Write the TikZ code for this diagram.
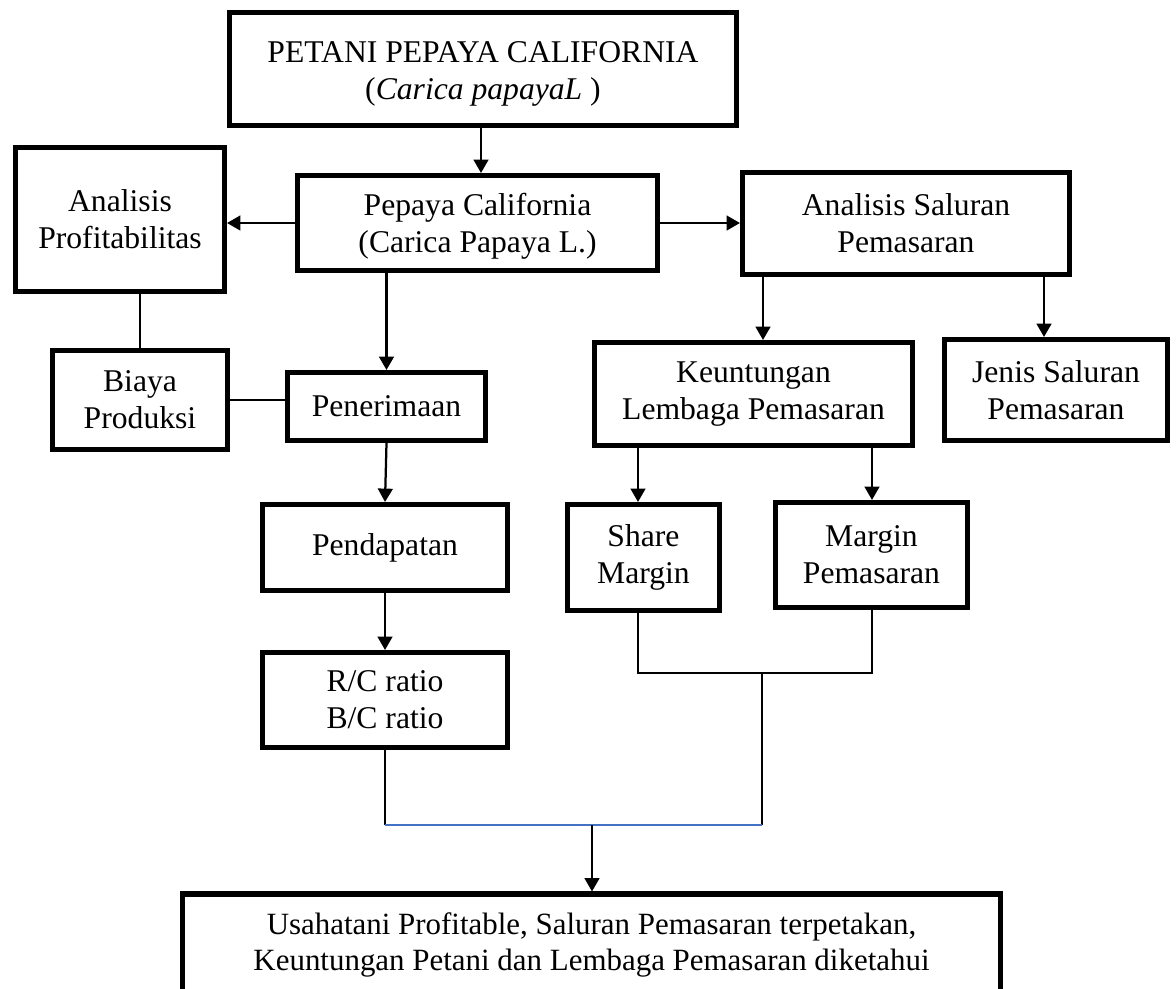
\documentclass[tikz,border=0pt]{standalone}
\usepackage{fontspec}
\setmainfont{Liberation Serif}
\usetikzlibrary{arrows.meta}
\definecolor{lineblue}{RGB}{68,114,196}
\tikzset{
  box/.style={draw, line width=3.6pt, align=center, inner sep=0pt,
    font=\fontsize{22.5}{26.5}\selectfont},
  arr/.style={line width=1.6pt, -{Triangle[width=10.5pt,length=9.5pt]}},
  conn/.style={line width=1.1pt},
}
\begin{document}
\begin{tikzpicture}[x=0.025cm,y=-0.025cm]
\clip (0,0) rectangle (1176,988);
\fill[white] (0,0) rectangle (1176,988);

\node[box, minimum width=12.675cm, minimum height=2.825cm] (top) at (483,69)
  {\rule{0pt}{22pt}PETANI PEPAYA CALIFORNIA\\(\textit{Carica papayaL} )};
\node[box, minimum width=5.225cm, minimum height=3.6cm] (anprof) at (120,219.5)
  {Analisis\\Profitabilitas};
\node[box, minimum width=9.0cm, minimum height=2.375cm] (pepaya) at (477.5,223)
  {\rule{0pt}{21pt}Pepaya California\\(Carica Papaya L.)};
\node[box, minimum width=8.175cm, minimum height=2.55cm] (saluran) at (906,223.5)
  {Analisis Saluran\\Pemasaran};
\node[box, minimum width=4.375cm, minimum height=2.475cm] (biaya) at (140,400)
  {Biaya\\Produksi};
\node[box, minimum width=4.95cm, minimum height=1.7cm] (penerimaan) at (386.5,406.5)
  {Penerimaan};
\node[box, minimum width=7.95cm, minimum height=2.575cm] (keunt) at (753.5,394)
  {Keuntungan\\Lembaga Pemasaran};
\node[box, minimum width=5.575cm, minimum height=2.525cm] (jenis) at (1056,390)
  {Jenis Saluran\\Pemasaran};
\node[box, minimum width=6.125cm, minimum height=2.15cm] (pendapatan) at (385,547.5)
  {Pendapatan};
\node[box, minimum width=3.8cm, minimum height=2.65cm] (share) at (643.5,557.5)
  {Share\\Margin};
\node[box, minimum width=4.8cm, minimum height=2.625cm] (margin) at (871.5,555)
  {Margin\\Pemasaran};
\node[box, minimum width=6.125cm, minimum height=2.375cm] (rc) at (385,700)
  {R/C ratio\\B/C ratio};
\node[box, minimum width=20.45cm, minimum height=2.55cm,
  font=\fontsize{22}{25}\selectfont] (bottom) at (591.5,945)
  {Usahatani Profitable, Saluran Pemasaran terpetakan,\\Keuntungan Petani dan Lembaga Pemasaran diketahui};

% helper coordinates
\coordinate (xt) at (481,0);
\coordinate (xk) at (763,0);
\coordinate (xj) at (1044,0);
\coordinate (xs) at (638,0);
\coordinate (xm) at (872,0);
\coordinate (xc) at (762,0);
\coordinate (xb) at (592,0);
\coordinate (yj) at (0,673);
\coordinate (yb) at (0,825);

% arrows
\draw[arr] (top.south -| xt) -- (pepaya.north -| xt);
\draw[arr] (pepaya.west) -- (pepaya.west -| anprof.east);
\draw[arr] (pepaya.east) -- (pepaya.east -| saluran.west);
\draw[arr] (pepaya.south -| penerimaan.north) -- (penerimaan.north);
\draw[arr] (penerimaan.south) -- (pendapatan.north);
\draw[arr] (pendapatan.south) -- (rc.north);
\draw[arr] (saluran.south -| xk) -- (keunt.north -| xk);
\draw[arr] (saluran.south -| xj) -- (jenis.north -| xj);
\draw[arr] (keunt.south -| xs) -- (share.north -| xs);
\draw[arr] (keunt.south -| xm) -- (margin.north -| xm);

% thin connectors
\draw[conn, line width=1.2pt] (biaya.north |- anprof.south) -- (biaya.north);
\draw[conn, line width=1.2pt] (biaya.east) -- (biaya.east -| penerimaan.west);
\draw[conn] (share.south -| xs) -- (yj -| xs) -- (yj -| xm) -- (margin.south -| xm);
\draw[conn] (yj -| xc) -- (yb -| xc);
\draw[conn] (rc.south) -- (yb -| rc.south);
\draw[conn, lineblue] (yb -| rc.south) -- (yb -| xc);
\draw[arr] (yb -| xb) -- (bottom.north -| xb);
\end{tikzpicture}
\end{document}
